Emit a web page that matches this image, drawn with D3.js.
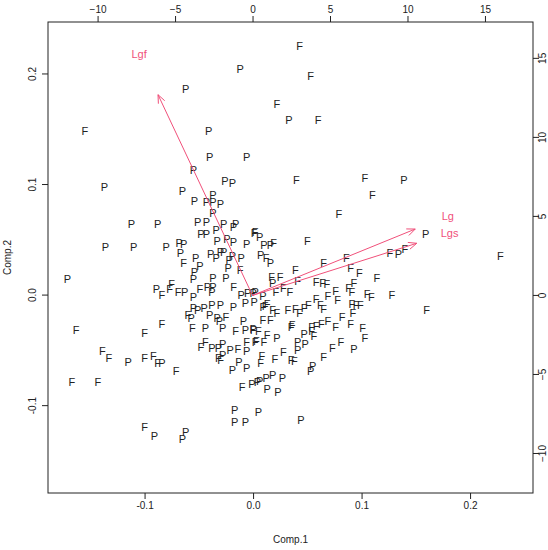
<!DOCTYPE html>
<html><head><meta charset="utf-8">
<script src="https://cdn.jsdelivr.net/npm/d3@7"></script>
<style>body{margin:0;background:#fff}svg{font-family:"Liberation Sans",Arial,sans-serif}</style>
</head><body><svg id="c" width="548" height="550"></svg>
<script>
const labelGroups = [
 "FFPPFPFPFP PPPPPPFFPF FPPFPFPFFF FPFFFFFPPP PPPPP",
 "PPPPPPPPPPPPP F PPPPPPPPPPPPPPPPPP F PPPP F PPP F P FFF PP F PPP F PPP",
 "F PPP F P F P FFF P FFFFFF P FFFFFFFFFFFF PP FFFFFFFFFFFFFFFFFFFFFFFFF",
 "FF PPPPPPPP F PPP F P F PP F PPP FFFF PPPPP FFF PPPP FF P F PP",
 "FFFFFFFFFFFFF P FF P FF PPP FF P FFFFFFF PPPPPPPP"
];
const labels = labelGroups.join("").replace(/\s/g,"").split("");
const comp1 = [0.043,0.053,-0.012,-0.062,0.022,0.033,0.060,-0.041,-0.155,-0.040,-0.006,-0.055,-0.026,-0.019,-0.137,-0.065,0.040,0.103,0.139,0.110,0.079,-0.112,-0.136,0.050,0.159,0.228,-0.171,-0.163,0.160,-0.139,-0.133,-0.115,-0.100,-0.167,-0.143,-0.071,-0.100,-0.091,-0.062,-0.065,-0.017,0.005,-0.017,-0.007,0.044,
-0.054,-0.043,-0.037,-0.037,-0.030,-0.037,-0.088,-0.051,-0.043,-0.027,-0.016,-0.034,-0.018,0.001,-0.048,-0.043,-0.033,-0.024,-0.018,-0.006,-0.110,-0.080,-0.068,-0.064,-0.067,-0.039,-0.030,-0.027,-0.019,-0.034,-0.022,-0.011,-0.064,-0.053,-0.049,-0.054,-0.023,-0.012,-0.055,-0.037,-0.025,-0.075,-0.089,-0.084,-0.077,-0.069,-0.063,-0.055,-0.049,-0.042,-0.037,-0.038,-0.018,-0.011,-0.005,0.002,
0.002,0.006,0.010,0.016,0.019,0.007,0.012,0.016,0.065,0.086,0.126,0.134,0.140,0.039,0.090,0.098,0.017,0.025,0.018,0.041,0.058,0.064,0.068,0.093,0.114,0.021,0.028,0.034,0.088,0.091,0.076,0.000,0.009,0.069,0.105,0.109,0.128,0.058,0.078,0.011,0.018,0.022,0.032,0.039,0.043,0.051,0.062,0.065,0.095,0.082,0.092,0.009,0.016,0.036,0.054,0.069,0.076,0.101,
-0.100,-0.084,-0.055,-0.051,-0.045,-0.038,-0.030,-0.018,-0.007,0.001,-0.060,-0.057,-0.040,-0.033,-0.025,-0.031,-0.056,-0.044,-0.028,-0.016,-0.009,-0.007,0.000,-0.006,0.002,-0.048,-0.044,-0.038,-0.032,-0.028,-0.021,-0.028,-0.032,-0.030,-0.014,-0.006,-0.013,-0.019,-0.006,-0.092,-0.088,-0.084,-0.010,-0.001,0.004,
0.009,0.013,0.047,0.091,0.099,0.035,0.058,0.063,0.090,0.103,0.000,0.005,0.013,0.022,0.003,0.010,0.047,0.056,0.054,0.048,0.041,0.041,0.081,0.073,0.093,0.008,0.007,0.020,0.028,0.035,0.038,0.065,0.055,0.053,0.027,0.018,0.012,0.006,0.013,0.023];
const comp2 = [0.225,0.198,0.204,0.186,0.173,0.158,0.158,0.148,0.148,0.125,0.125,0.113,0.103,0.101,0.098,0.094,0.104,0.106,0.104,0.090,0.073,0.064,0.043,0.049,0.055,0.035,0.014,-0.032,-0.014,-0.051,-0.057,-0.061,-0.057,-0.079,-0.079,-0.069,-0.119,-0.128,-0.124,-0.130,-0.104,-0.106,-0.115,-0.115,-0.113,
0.085,0.084,0.090,0.084,0.082,0.074,0.064,0.066,0.066,0.064,0.064,0.059,0.061,0.056,0.055,0.055,0.049,0.051,0.048,0.046,0.043,0.043,0.047,0.046,0.038,0.037,0.039,0.039,0.035,0.033,0.032,0.033,0.029,0.033,0.026,0.021,0.024,0.023,0.014,0.015,0.015,0.010,0.005,0.000,0.005,0.003,0.003,-0.002,0.005,0.007,0.007,0.003,0.007,0.000,0.002,0.003,
0.057,0.052,0.045,0.045,0.047,0.036,0.033,0.029,0.029,0.033,0.038,0.037,0.042,0.023,0.024,0.020,0.016,0.016,0.011,0.013,0.012,0.011,0.010,0.011,0.015,0.003,0.006,0.003,0.006,0.003,0.004,0.002,-0.001,-0.001,0.001,-0.002,0.000,-0.004,-0.005,-0.010,-0.014,-0.016,-0.014,-0.013,-0.016,-0.009,-0.009,-0.013,-0.009,-0.020,-0.016,-0.023,-0.023,-0.027,-0.029,-0.024,-0.029,-0.030,
-0.034,-0.026,-0.012,-0.014,-0.012,-0.009,-0.009,-0.011,-0.007,-0.006,-0.018,-0.021,-0.018,-0.021,-0.020,-0.024,-0.030,-0.030,-0.030,-0.033,-0.024,-0.032,-0.031,-0.043,-0.043,-0.047,-0.043,-0.048,-0.048,-0.044,-0.050,-0.054,-0.057,-0.059,-0.049,-0.051,-0.061,-0.068,-0.066,-0.055,-0.062,-0.062,-0.083,-0.081,-0.079,
-0.011,-0.008,-0.012,-0.008,-0.009,-0.029,-0.028,-0.026,-0.026,-0.039,-0.032,-0.033,-0.036,-0.039,-0.042,-0.043,-0.035,-0.037,-0.033,-0.044,-0.043,-0.050,-0.043,-0.048,-0.049,-0.055,-0.062,-0.058,-0.052,-0.059,-0.060,-0.056,-0.064,-0.069,-0.075,-0.072,-0.075,-0.078,-0.085,-0.088];
const varNames = ["Lgf","Lg","Lgs"];
const load1 = [-6.1,10.5,10.6];
const load2 = [12.7,4.2,3.3];
const xTicks = [-0.1,0.0,0.1,0.2];
const yTicks = [-0.1,0.0,0.1,0.2];
const topTicks = [-10,-5,0,5,10,15];
const rightTicks = [-10,-5,0,5,10,15];

const svg = d3.select("#c");
const L=48,R=533,T=22,B=493;
const x = d3.scaleLinear().domain([-0.189,0.258]).range([L,R]);
const y = d3.scaleLinear().domain([-0.179,0.247]).range([B,T]);
const xt = d3.scaleLinear().domain([-13.2,18.1]).range([L,R]);
const yr = d3.scaleLinear().domain([-12.5,17.3]).range([B,T]);
const fmt = d => d===0 ? "0.0" : String(d);
const ax = (g)=>{g.selectAll("text").attr("fill","#222").style("font-size","10px");g.selectAll("line,path").attr("stroke","#222");};
svg.append("g").attr("transform",`translate(0,${B})`).call(d3.axisBottom(x).tickValues(xTicks).tickFormat(fmt).tickSizeOuter(0).tickSize(6)).call(ax).select(".domain").remove();
svg.append("g").attr("transform",`translate(0,${T})`).call(d3.axisTop(xt).tickValues(topTicks).tickSizeOuter(0).tickSize(6)).call(ax).select(".domain").remove();
const gl = svg.append("g").attr("transform",`translate(${L},0)`).call(d3.axisLeft(y).tickValues(yTicks).tickFormat(fmt).tickSizeOuter(0).tickSize(6)).call(ax);
gl.select(".domain").remove();
gl.selectAll(".tick").attr("transform",null);
gl.selectAll(".tick line").attr("transform",d=>`translate(0,${y(d)})`);
gl.selectAll("text").attr("x",0).attr("y",0).attr("dy",0).style("text-anchor","middle").attr("transform",d=>`translate(-12,${y(d)}) rotate(-90)`);
const gr = svg.append("g").attr("transform",`translate(${R},0)`).call(d3.axisRight(yr).tickValues(rightTicks).tickSizeOuter(0).tickSize(6)).call(ax);
gr.select(".domain").remove();
gr.selectAll(".tick").attr("transform",null);
gr.selectAll(".tick line").attr("transform",d=>`translate(0,${yr(d)})`);
gr.selectAll("text").attr("x",0).attr("y",0).attr("dy",0).style("text-anchor","middle").attr("transform",d=>`translate(13,${yr(d)}) rotate(-90)`);
svg.append("rect").attr("x",L).attr("y",T).attr("width",R-L).attr("height",B-T).attr("fill","none").attr("stroke","#222");
svg.append("text").attr("x",(L+R)/2).attr("y",543).attr("text-anchor","middle").style("font-size","10px").attr("fill","#222").text("Comp.1");
svg.append("text").attr("transform",`translate(11,${(T+B)/2}) rotate(-90)`).attr("text-anchor","middle").style("font-size","10px").attr("fill","#222").text("Comp.2");

svg.append("g").selectAll("text").data(labels).join("text")
  .attr("x",(d,i)=>x(comp1[i])).attr("y",(d,i)=>y(comp2[i])).attr("dy","0.35em")
  .attr("text-anchor","middle").style("font-size","11px").attr("fill","#222").text(d=>d);

const col="#f0507a";
const ag = svg.append("g");
varNames.forEach((n,i)=>{
  const x0=xt(0),y0=yr(0),x1=xt(load1[i]),y1=yr(load2[i]);
  ag.append("line").attr("x1",x0).attr("y1",y0).attr("x2",x1).attr("y2",y1).attr("stroke",col).attr("stroke-width",1);
  const a=Math.atan2(y1-y0,x1-x0), h=9, s=0.4;
  ag.append("path").attr("d",`M${x1-h*Math.cos(a-s)},${y1-h*Math.sin(a-s)}L${x1},${y1}L${x1-h*Math.cos(a+s)},${y1-h*Math.sin(a+s)}`).attr("fill","none").attr("stroke",col);
  ag.append("text").attr("x",xt(load1[i]*1.2)).attr("y",yr(load2[i]*1.2)).attr("dy","0.35em").attr("text-anchor","middle").style("font-size","11px").attr("fill",col).text(n);
});
</script></body></html>
